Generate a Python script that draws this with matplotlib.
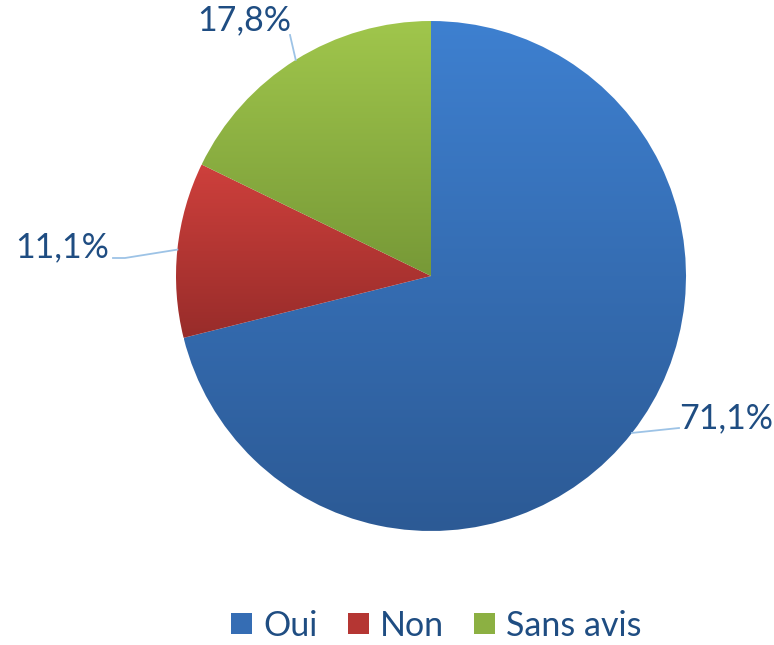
import matplotlib
matplotlib.use("Agg")
import matplotlib.pyplot as plt
import numpy as np
from matplotlib.colors import LinearSegmentedColormap
from matplotlib.patches import Patch

plt.rcParams['font.family'] = ['Lato', 'DejaVu Sans']

labels = ["Oui", "Non", "Sans avis"]
values = [71.1, 11.1, 17.8]
pct_labels = ["71,1%", "11,1%", "17,8%"]

top_colors = ["#3E80D0", "#CE403C", "#A0C64C"]
bottom_colors = ["#2C5A95", "#982C2A", "#779937"]
mid_colors = ["#356DB4", "#B53633", "#8CB042"]
text_color = "#1F4D82"
line_color = "#9DC3E6"

W, H = 774, 645
fig = plt.figure(figsize=(W / 100, H / 100), dpi=100)
ax = fig.add_axes([0, 0, 1, 1])

cx, cy, r = 431, H - 276, 255
wedges, _ = ax.pie(values, startangle=90, counterclock=False,
                   center=(cx, cy), radius=r,
                   wedgeprops=dict(linewidth=0))

grad = np.linspace(0, 1, 256)[:, None]
for w, c0, c1 in zip(wedges, top_colors, bottom_colors):
    w.set_facecolor("none")
    ext = w.get_path().get_extents()
    cmap = LinearSegmentedColormap.from_list("g", [c0, c1])
    im = ax.imshow(grad, cmap=cmap, aspect="auto", origin="upper",
                   extent=[ext.x0, ext.x1, ext.y0, ext.y1], zorder=1)
    im.set_clip_path(w)

# label text positions (pixel coords, y down) and leader elbows
text_pos = [(726, 418), (62, 247), (244, 20)]
elbows = [[(679, 428)], [(125, 258), (113, 258)], [(290, 35)]]

for w, txt, (tx, ty), elb in zip(wedges, pct_labels, text_pos, elbows):
    mid = np.deg2rad((w.theta1 + w.theta2) / 2)
    ex, ey = cx + r * np.cos(mid), cy + r * np.sin(mid)
    xs = [ex] + [p[0] for p in elb]
    ys = [ey] + [H - p[1] for p in elb]
    ax.plot(xs, ys, color=line_color, lw=1.3, zorder=2)
    ax.text(tx, H - ty, txt, ha="center", va="center",
            fontsize=24.5, color=text_color, zorder=3)

handles = [Patch(facecolor=c, edgecolor="none") for c in mid_colors]
leg = ax.legend(handles, labels, loc="center", bbox_to_anchor=(0.564, 0.03),
                ncol=3, frameon=False, fontsize=24.5, handlelength=0.6,
                handleheight=0.6, handletextpad=0.33, columnspacing=0.9,
                borderpad=0, borderaxespad=0)
for t in leg.get_texts():
    t.set_color(text_color)

ax.set_xlim(0, W)
ax.set_ylim(0, H)
ax.set_aspect("equal")
ax.axis("off")

fig.savefig("out.png", dpi=100)
